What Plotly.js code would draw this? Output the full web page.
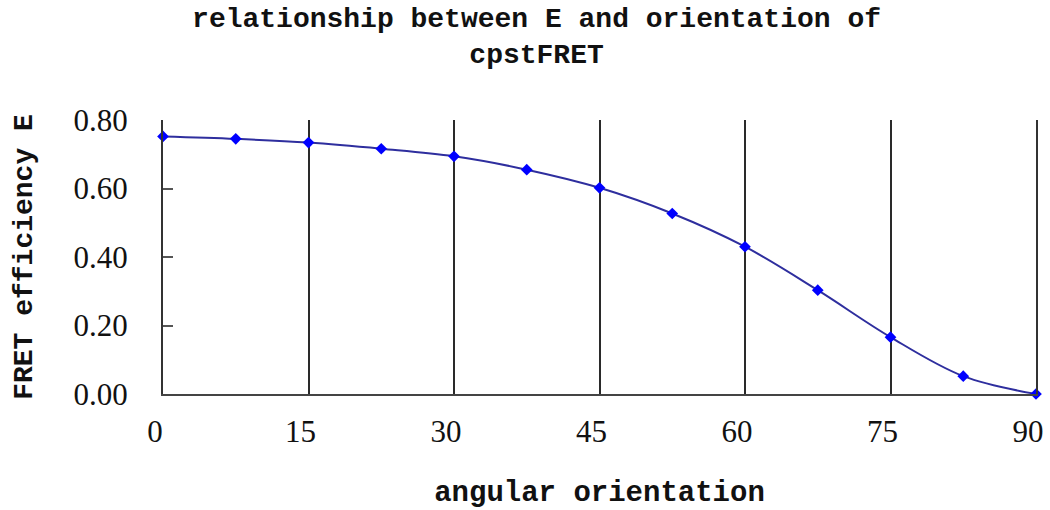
<!DOCTYPE html>
<html>
<head>
<meta charset="utf-8">
<script src="https://cdn.plot.ly/plotly-3.0.1.min.js"></script>
<style>html,body{margin:0;padding:0;background:#fff;}#chart{width:1050px;height:510px;}</style>
</head>
<body>
<div id="chart"></div>
<script>
// Data
var angles = [0, 7.5, 15, 22.5, 30, 37.5, 45, 52.5, 60, 67.5, 75, 82.5, 90];
var efficiency = [0.752, 0.745, 0.734, 0.716, 0.694, 0.655, 0.602, 0.527, 0.430, 0.303, 0.166, 0.052, 0.0];
var xTicks = [0, 15, 30, 45, 60, 75, 90];
var yTicks = [0, 0.2, 0.4, 0.6, 0.8];
var yTickText = ['0.00', '0.20', '0.40', '0.60', '0.80'];

var monoBold = 'Liberation Mono, DejaVu Sans Mono, monospace';

var trace = {
  x: angles,
  y: efficiency,
  type: 'scatter',
  mode: 'lines+markers',
  line: {shape: 'spline', smoothing: 1, color: '#2e2e9e', width: 2},
  marker: {symbol: 'diamond', size: 9, color: '#0000ff'},
  cliponaxis: false,
  hoverinfo: 'x+y'
};

var layout = {
  width: 1050,
  height: 510,
  margin: {l: 163, r: 14, t: 120, b: 116},
  paper_bgcolor: '#ffffff',
  plot_bgcolor: '#ffffff',
  showlegend: false,
  title: {
    text: '<b>relationship between E and orientation of<br>cpstFRET</b>',
    font: {family: monoBold, size: 28, color: '#111'},
    xref: 'container', x: 0.511, xanchor: 'center',
    yref: 'container', y: 0.948, yanchor: 'middle'
  },
  xaxis: {
    range: [0, 90],
    tickvals: xTicks,
    ticktext: xTicks.map(String),
    showgrid: true,
    gridcolor: '#2a2a2a',
    gridwidth: 2,
    showline: true,
    linecolor: '#444',
    linewidth: 2,
    ticks: '',
    zeroline: false,
    ticklabelshift: -8,
    ticklabelstandoff: 9,
    tickfont: {family: 'Liberation Serif, serif', size: 31, color: '#111'},
    title: {
      text: '<b>angular orientation</b>',
      font: {family: monoBold, size: 29, color: '#111'},
      standoff: 40
    },
    automargin: false
  },
  yaxis: {
    range: [0, 0.8],
    tickvals: yTicks,
    ticktext: yTickText,
    showgrid: false,
    showline: true,
    mirror: true,
    linecolor: '#333',
    linewidth: 2,
    ticks: 'inside',
    ticklen: 10,
    tickwidth: 2,
    tickcolor: '#555',
    zeroline: false,
    ticklabelstandoff: 27,
    tickfont: {family: 'Liberation Serif, serif', size: 31, color: '#111'},
    title: {
      text: '<b>FRET efficiency E</b>',
      font: {family: monoBold, size: 28, color: '#111'},
      standoff: 33
    },
    automargin: false
  }
};

Plotly.newPlot('chart', [trace], layout, {displayModeBar: false, staticPlot: true});
</script>
</body>
</html>
